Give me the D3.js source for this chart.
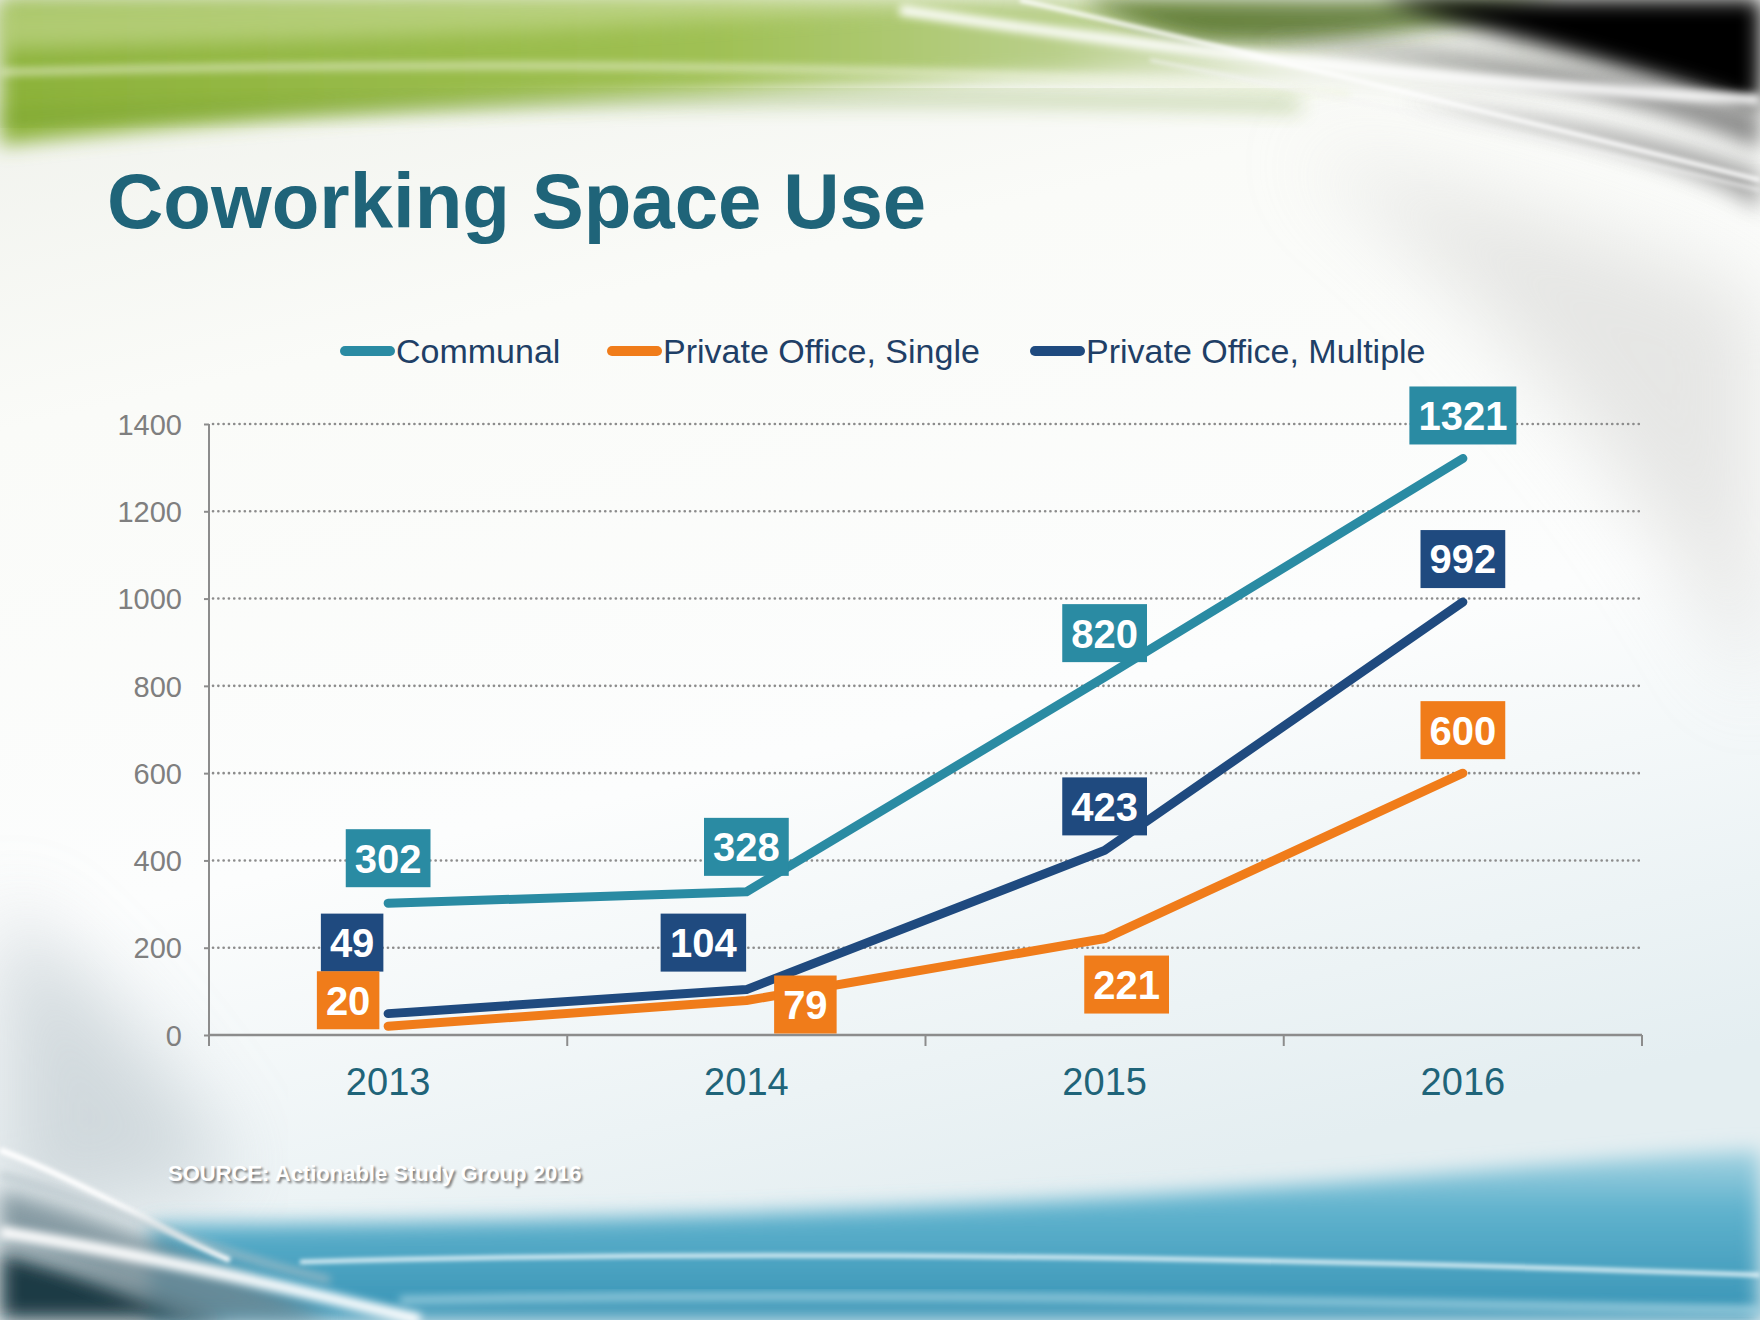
<!DOCTYPE html>
<html><head><meta charset="utf-8">
<script src="https://cdn.jsdelivr.net/npm/d3@7"></script>
<style>html,body{margin:0;padding:0;background:#fff;}svg{display:block;}</style>
</head><body>
<script>
// ---- data ----
const years = ["2013", "2014", "2015", "2016"];
const seriesNames = ["Communal", "Private Office, Single", "Private Office, Multiple"];
const communal = [302, 328, 820, 1321];
const privateSingle = [20, 79, 221, 600];
const privateMultiple = [49, 104, 423, 992];
const yTicks = [0, 200, 400, 600, 800, 1000, 1200, 1400];
const titleText = "Coworking Space Use";
const sourceText = "SOURCE: Actionable Study Group 2016";

// ---- layout / style ----
const W = 1760, H = 1320;
const colors = ["#2a8ba3", "#f07c1a", "#1f4a7f"];
const seriesValues = [communal, privateSingle, privateMultiple];
// label placement (offsets in px relative to point), per series per year
const labelOffsets = [
  [[0,-45],[0,-45],[0,-44],[0,-43]],
  [[-40,-26],[59,4],[22,46],[0,-43]],
  [[-36,-71],[-43,-47],[0,-44],[0,-43]]
];
const FONT = "'Liberation Sans', Arial, sans-serif";

const svg = d3.select("body").append("svg").attr("width", W).attr("height", H);
const defs = svg.append("defs");

// ---- background ----
const bg = defs.append("linearGradient").attr("id","bg").attr("x1",0).attr("y1",0).attr("x2",0.3).attr("y2",1);
bg.append("stop").attr("offset",0).attr("stop-color","#eef0ea");
bg.append("stop").attr("offset",0.3).attr("stop-color","#fafbf8");
bg.append("stop").attr("offset",0.65).attr("stop-color","#fcfdfd");
bg.append("stop").attr("offset",1).attr("stop-color","#e4eef1");
svg.append("rect").attr("width",W).attr("height",H).attr("fill","url(#bg)");

const blur = (id, s) => defs.append("filter").attr("id",id).attr("x","-20%").attr("y","-50%").attr("width","140%").attr("height","200%")
  .append("feGaussianBlur").attr("stdDeviation", s);
blur("b4",4); blur("b10",10); blur("b20",20); blur("b2",2); blur("b1",0.8); blur("b40",40);

// right-side grey haze
svg.append("path").attr("d","M1300,150 C1500,200 1700,260 1760,300 L1760,700 C1650,500 1500,300 1300,150 Z")
  .attr("fill","#d8d8d6").attr("filter","url(#b40)").attr("opacity",0.6);

// green swoosh gradient
const gg = defs.append("linearGradient").attr("id","gg").attr("x1",0).attr("y1",0).attr("x2",1).attr("y2",0);
gg.append("stop").attr("offset",0).attr("stop-color","#8cb23a");
gg.append("stop").attr("offset",0.4).attr("stop-color","#9fc053");
gg.append("stop").attr("offset",0.6).attr("stop-color","#b9cf8a");
gg.append("stop").attr("offset",0.75).attr("stop-color","#eef1e8");
gg.append("stop").attr("offset",1).attr("stop-color","#d8d8d8");
svg.append("path").attr("d","M0,0 L1760,0 L1760,80 C1500,110 1250,60 950,80 C650,95 300,110 0,145 Z")
  .attr("fill","url(#gg)").attr("filter","url(#b10)");
// lighter inner bands
svg.append("path").attr("d","M0,5 L1000,0 C700,25 350,40 0,50 Z").attr("fill","#cddf9f").attr("opacity",0.55).attr("filter","url(#b10)");
svg.append("path").attr("d","M0,72 C400,62 900,60 1350,95").attr("fill","none").attr("stroke","#eef4dc").attr("stroke-width",5).attr("filter","url(#b4)").attr("opacity",0.9);
svg.append("path").attr("d","M0,118 C400,100 900,92 1300,105").attr("fill","none").attr("stroke","#6d9828").attr("stroke-width",10).attr("filter","url(#b10)").attr("opacity",0.5);
// dark green top band right
svg.append("path").attr("d","M1080,0 L1560,0 C1450,30 1300,50 1200,40 C1150,30 1110,15 1080,0 Z").attr("fill","#4c6a1a").attr("filter","url(#b10)").attr("opacity",0.8);
// dark top right
svg.append("path").attr("d","M1380,0 L1760,0 L1760,110 C1650,70 1500,35 1380,0 Z").attr("fill","#050505").attr("filter","url(#b10)");
svg.append("path").attr("d","M1250,40 C1450,60 1650,100 1760,150 L1760,115 C1600,70 1450,50 1250,40 Z").attr("fill","#5a5a5a").attr("filter","url(#b10)").attr("opacity",0.7);
svg.append("path").attr("d","M1400,100 C1550,130 1680,160 1760,210 L1760,170 C1680,140 1550,115 1400,100 Z").attr("fill","#707070").attr("filter","url(#b10)").attr("opacity",0.6);
// white streaks top right
svg.append("path").attr("d","M900,10 C1100,40 1400,80 1760,100").attr("fill","none").attr("stroke","#fff").attr("stroke-width",10).attr("filter","url(#b4)");
svg.append("path").attr("d","M1020,0 C1150,30 1400,90 1760,180").attr("fill","none").attr("stroke","#fff").attr("stroke-width",4).attr("filter","url(#b2)");
svg.append("path").attr("d","M1150,60 C1350,100 1550,140 1760,190").attr("fill","none").attr("stroke","#f4f4f4").attr("stroke-width",3).attr("filter","url(#b2)").attr("opacity",0.8);

// left grey haze
svg.append("path").attr("d","M0,900 C100,980 180,1080 240,1180 L0,1230 Z").attr("fill","#c2ccd1").attr("filter","url(#b40)").attr("opacity",0.7);

// bottom teal band
const bt = defs.append("linearGradient").attr("id","bt").attr("x1",0).attr("y1",0).attr("x2",0).attr("y2",1);
bt.append("stop").attr("offset",0).attr("stop-color","#a6d4e2");
bt.append("stop").attr("offset",0.35).attr("stop-color","#5fb2cd");
bt.append("stop").attr("offset",1).attr("stop-color","#3793b5");
svg.append("path").attr("d","M150,1225 C500,1222 900,1215 1300,1185 C1500,1170 1650,1155 1760,1150 L1760,1320 L150,1320 Z")
  .attr("fill","url(#bt)").attr("filter","url(#b10)");
svg.append("path").attr("d","M300,1262 C700,1250 1200,1255 1760,1275").attr("fill","none").attr("stroke","#eaf6fa").attr("stroke-width",4).attr("filter","url(#b2)");
svg.append("path").attr("d","M400,1300 C800,1292 1200,1298 1760,1310").attr("fill","none").attr("stroke","#a9d6e4").attr("stroke-width",6).attr("filter","url(#b4)");
// bottom-left dark / white streaks
svg.append("path").attr("d","M0,1250 C80,1270 160,1295 230,1320 L0,1320 Z").attr("fill","#1f3a44").attr("filter","url(#b10)");
svg.append("path").attr("d","M0,1190 C120,1225 220,1260 330,1320 L180,1320 C120,1290 60,1260 0,1245 Z").attr("fill","#6f8791").attr("filter","url(#b10)").attr("opacity",0.8);
svg.append("path").attr("d","M0,1232 C150,1255 300,1290 420,1320").attr("fill","none").attr("stroke","#fff").attr("stroke-width",12).attr("filter","url(#b4)");
svg.append("path").attr("d","M0,1150 C80,1180 160,1230 230,1260").attr("fill","none").attr("stroke","#fff").attr("stroke-width",6).attr("filter","url(#b2)");
svg.append("path").attr("d","M0,1175 C100,1200 200,1250 330,1280").attr("fill","none").attr("stroke","#b4c2c8").attr("stroke-width",6).attr("filter","url(#b4)").attr("opacity",0.8);

// ---- title ----
svg.append("text").attr("x",107).attr("y",228).text(titleText)
  .attr("font-family",FONT).attr("font-weight","bold").attr("font-size",78)
  .attr("fill","#1f6479");

// ---- chart ----
const x0 = 209, x1 = 1642, yTop = 424, yBot = 1035;
const x = d3.scaleBand().domain(years).range([x0, x1]).padding(0);
const y = d3.scaleLinear().domain([0, 1400]).range([yBot, yTop]);
const cx = d => x(d) + x.bandwidth()/2;

// gridlines
svg.append("g").selectAll("line").data(yTicks.filter(t=>t>0)).join("line")
  .attr("x1", x0+4).attr("x2", x1).attr("y1", d=>y(d)).attr("y2", d=>y(d))
  .attr("stroke","#8c8c8c").attr("stroke-width",2.6).attr("stroke-dasharray","0.1 5.2").attr("stroke-linecap","round");

// y axis
const yAxis = svg.append("g").attr("transform",`translate(${x0},0)`)
  .call(d3.axisLeft(y).tickValues(yTicks).tickSize(5).tickPadding(22).tickFormat(d3.format("d")));
yAxis.select(".domain").attr("stroke","#8c8c8c").attr("stroke-width",2).attr("d",`M0,${yTop}V${yBot}`);
yAxis.selectAll(".tick line").attr("stroke","#8c8c8c").attr("stroke-width",2);
yAxis.selectAll(".tick text").attr("font-family",FONT).attr("font-size",29).attr("fill","#7f7f7f").attr("dy","0.35em");

// x axis
const xAxis = svg.append("g").attr("transform",`translate(0,${yBot})`)
  .call(d3.axisBottom(x).tickSize(0).tickPadding(33));
xAxis.select(".domain").attr("stroke","#8c8c8c").attr("stroke-width",2.5).attr("d",`M${x0},0H${x1}`);
xAxis.selectAll(".tick text").attr("font-family",FONT).attr("font-size",38).attr("fill","#1f6479");
// tick marks at band edges
svg.append("g").selectAll("line").data(years.map(d=>x(d)).concat([x1])).join("line")
  .attr("x1",d=>d).attr("x2",d=>d).attr("y1",yBot).attr("y2",yBot+11)
  .attr("stroke","#8c8c8c").attr("stroke-width",2);

// lines
const line = d3.line().x((d,i)=>cx(years[i])).y(d=>y(d));
const drawOrder = [1,2,0];
drawOrder.forEach(s=>{
  svg.append("path").datum(seriesValues[s]).attr("d", line)
    .attr("fill","none").attr("stroke",colors[s]).attr("stroke-width",9)
    .attr("stroke-linecap","round").attr("stroke-linejoin","round");
});

// labels
const labG = svg.append("g");
[0,2,1].forEach(s=>{
  seriesValues[s].forEach((v,i)=>{
    const px = cx(years[i]) + labelOffsets[s][i][0];
    const py = y(v) + labelOffsets[s][i][1];
    const g = labG.append("g").attr("transform",`translate(${px},${py})`);
    const t = g.append("text").text(v).attr("text-anchor","middle").attr("dy","0.36em")
      .attr("font-family",FONT).attr("font-weight","bold").attr("font-size",40)
      .attr("fill","#fff");
    const bb = t.node().getBBox();
    const bw = bb.width + 18, bh = 58;
    g.insert("rect","text").attr("x",-bw/2).attr("y",-bh/2).attr("width",bw).attr("height",bh).attr("fill",colors[s]);
  });
});

// legend
const legendItems = [
  {name: seriesNames[0], c: colors[0], lx: 340},
  {name: seriesNames[1], c: colors[1], lx: 607},
  {name: seriesNames[2], c: colors[2], lx: 1030}
];
const lg = svg.append("g");
legendItems.forEach(it=>{
  lg.append("line").attr("x1",it.lx+5).attr("x2",it.lx+50).attr("y1",351).attr("y2",351)
    .attr("stroke",it.c).attr("stroke-width",10).attr("stroke-linecap","round");
  lg.append("text").attr("x",it.lx+56).attr("y",351).attr("dy","0.36em").text(it.name)
    .attr("font-family",FONT).attr("font-size",34).attr("fill","#1f3f66");
});

// source
svg.append("text").attr("x",170).attr("y",1183).text(sourceText)
  .attr("font-family",FONT).attr("font-weight","bold").attr("font-size",22)
  .attr("fill","#666").attr("opacity",0.85).attr("filter","url(#b1)");
svg.append("text").attr("x",168).attr("y",1181).text(sourceText)
  .attr("font-family",FONT).attr("font-weight","bold").attr("font-size",22)
  .attr("fill","#ffffff");
</script>
</body></html>
